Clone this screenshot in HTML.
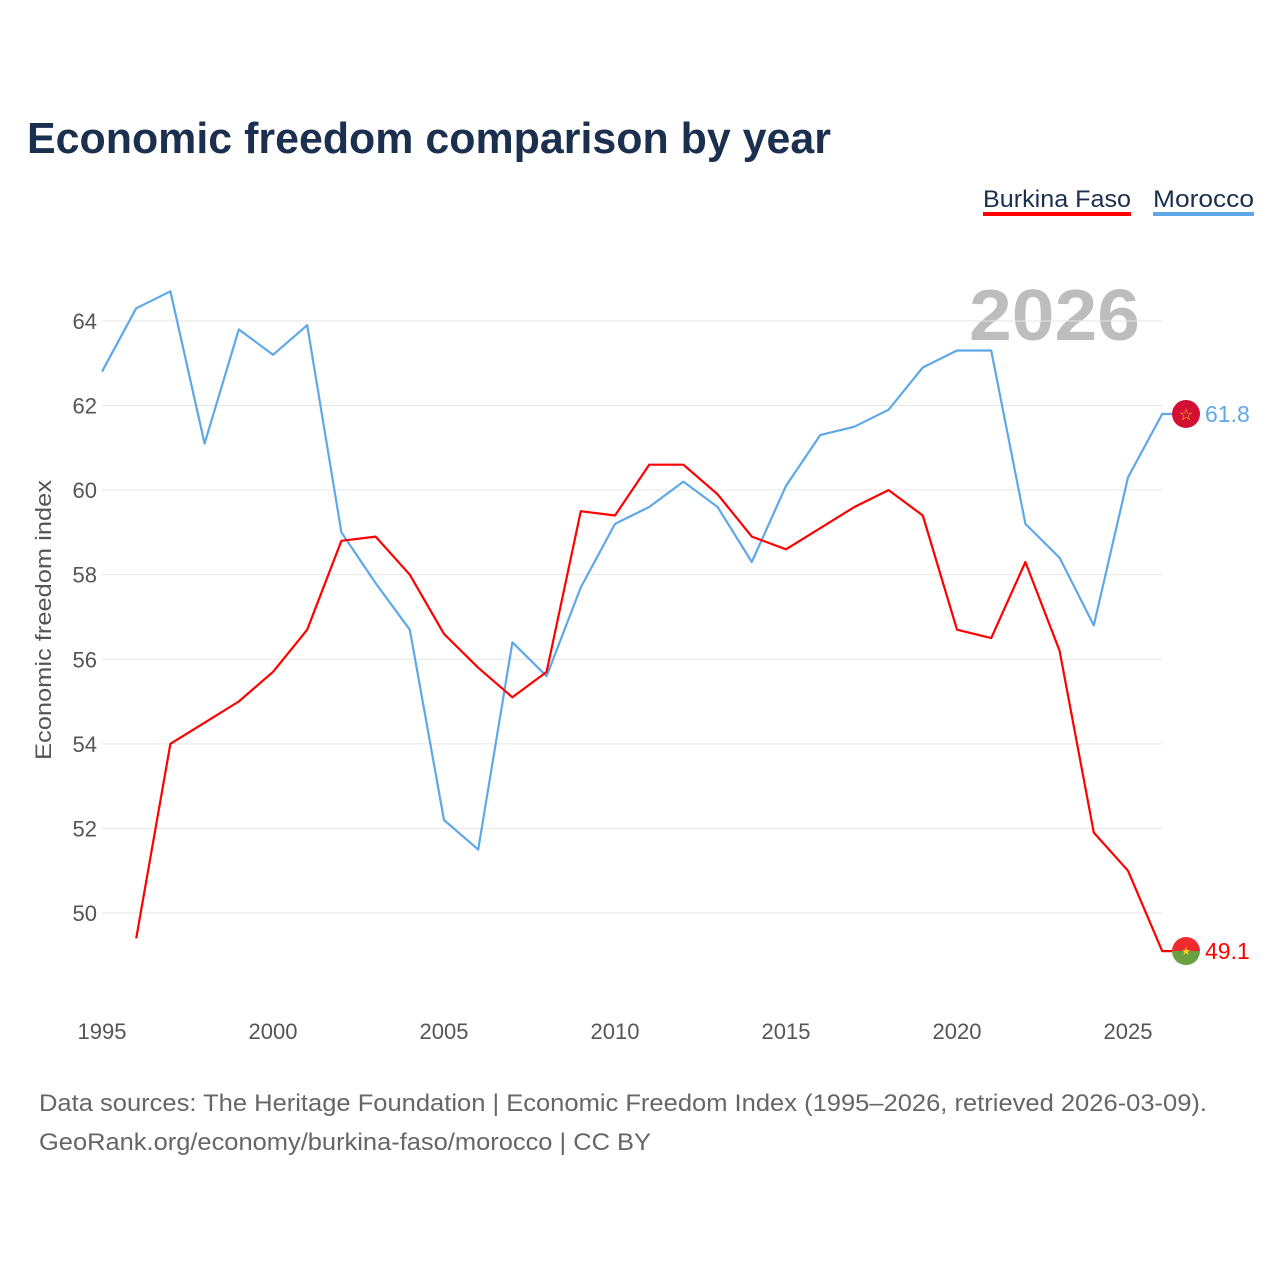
<!DOCTYPE html>
<html><head><meta charset="utf-8">
<style>
html,body{margin:0;padding:0;background:#fff;}
body{width:1280px;height:1280px;position:relative;font-family:"Liberation Sans",sans-serif;overflow:hidden;}
</style></head>
<body>
<svg id="chart" width="1280" height="1280" xmlns="http://www.w3.org/2000/svg" font-family="Liberation Sans, sans-serif">
<text x="27" y="153" font-size="44" font-weight="bold" fill="#1b2f4e" textLength="804" lengthAdjust="spacingAndGlyphs">Economic freedom comparison by year</text>
<g>
<text x="983" y="207" font-size="24" fill="#1b2f4e" textLength="148" lengthAdjust="spacingAndGlyphs">Burkina Faso</text>
<rect x="983" y="212" width="148" height="4" fill="#ff0000"/>
</g>
<g>
<text x="1153" y="207" font-size="24" fill="#1b2f4e" textLength="101" lengthAdjust="spacingAndGlyphs">Morocco</text>
<rect x="1153" y="212" width="101" height="4" fill="#5fa8e8"/>
</g>
<text x="969" y="340" font-size="72" font-weight="bold" fill="#bdbdbd" textLength="171" lengthAdjust="spacingAndGlyphs">2026</text>
<text transform="translate(51,620) rotate(-90)" text-anchor="middle" font-size="22" fill="#555" textLength="280" lengthAdjust="spacingAndGlyphs">Economic freedom index</text>
<g id="grid"></g><g id="yticks"></g><g id="xticks"></g><g id="lines"></g><g id="ends"></g>
<text x="39" y="1111" font-size="24" fill="#666" textLength="1168" lengthAdjust="spacingAndGlyphs">Data sources: The Heritage Foundation | Economic Freedom Index (1995–2026, retrieved 2026-03-09).</text>
<text x="39" y="1150" font-size="24" fill="#666" textLength="612" lengthAdjust="spacingAndGlyphs">GeoRank.org/economy/burkina-faso/morocco | CC BY</text>
</svg>
<script>
const years = [1995,1996,1997,1998,1999,2000,2001,2002,2003,2004,2005,2006,2007,2008,2009,2010,2011,2012,2013,2014,2015,2016,2017,2018,2019,2020,2021,2022,2023,2024,2025,2026];
const morocco = [62.8,64.3,64.7,61.1,63.8,63.2,63.9,59.0,57.8,56.7,52.2,51.5,56.4,55.6,57.7,59.2,59.6,60.2,59.6,58.3,60.1,61.3,61.5,61.9,62.9,63.3,63.3,59.2,58.4,56.8,60.3,61.8];
const burkina = [null,49.4,54.0,54.5,55.0,55.7,56.7,58.8,58.9,58.0,56.6,55.8,55.1,55.7,59.5,59.4,60.6,60.6,59.9,58.9,58.6,59.1,59.6,60.0,59.4,56.7,56.5,58.3,56.2,51.9,51.0,49.1];
const yTicks = [50,52,54,56,58,60,62,64];
const xTicks = [1995,2000,2005,2010,2015,2020,2025];
const NS="http://www.w3.org/2000/svg";
const x = v => 102 + (v-1995)*34.2;
const y = v => 913 - (v-50)*42.29;
function mk(tag, attrs, parent){const e=document.createElementNS(NS,tag);for(const k in attrs)e.setAttribute(k,attrs[k]);document.getElementById(parent).appendChild(e);return e;}
yTicks.forEach(t=>{
  const g=mk('line',{x1:102,x2:1162,y1:y(t),y2:y(t),stroke:'#e6e6e6','stroke-width':1},'grid');
  
  
  const l=mk('text',{x:97,y:y(t)+8,'text-anchor':'end','font-size':22,fill:'#555'},'yticks');
  l.textContent=t;
  
  
});
xTicks.forEach(t=>{
  const l=mk('text',{x:x(t),y:1039,'text-anchor':'middle','font-size':22,fill:'#555'},'xticks');
  l.textContent=t;
  
  
});
function line(vals,color,name){
  let d='';let started=false;let last=null;
  vals.forEach((v,i)=>{if(v==null)return;d+=(started?'L':'M')+x(years[i]).toFixed(1)+','+y(v).toFixed(1);started=true;last=v;});
  d+='L1172,'+y(last).toFixed(1);
  const p=mk('path',{d:d,fill:'none',stroke:color,'stroke-width':2.2,'stroke-linejoin':'round'},'lines');
  
  
}
line(morocco,'#5fa8e8','morocco-line');
line(burkina,'#ff0000','burkina-faso-line');
function endMark(v,color,name,flag){
  const cx=1186, cy=y(v);
  const g=mk('g',{},'ends');
  
  
  if(flag==='ma'){
    const c=document.createElementNS(NS,'circle');c.setAttribute('cx',cx);c.setAttribute('cy',cy);c.setAttribute('r',14);c.setAttribute('fill','#d21034');g.appendChild(c);
    const s=document.createElementNS(NS,'text');s.setAttribute('x',cx);s.setAttribute('y',cy+6);s.setAttribute('text-anchor','middle');s.setAttribute('font-size',16);s.setAttribute('fill','#f5c518');s.textContent='☆';g.appendChild(s);
  } else {
    const t=document.createElementNS(NS,'path');t.setAttribute('d',`M${cx-14},${cy} A14,14 0 0 1 ${cx+14},${cy} Z`);t.setAttribute('fill','#ef2b2d');g.appendChild(t);
    const b=document.createElementNS(NS,'path');b.setAttribute('d',`M${cx-14},${cy} A14,14 0 0 0 ${cx+14},${cy} Z`);b.setAttribute('fill','#6aa042');g.appendChild(b);
    const s=document.createElementNS(NS,'text');s.setAttribute('x',cx);s.setAttribute('y',cy+4);s.setAttribute('text-anchor','middle');s.setAttribute('font-size',11);s.setAttribute('fill','#fcd116');s.textContent='★';g.appendChild(s);
  }
  const l=document.createElementNS(NS,'text');l.setAttribute('x',1205);l.setAttribute('y',cy+8);l.setAttribute('font-size',23);l.setAttribute('fill',color);l.textContent=v.toFixed(1);g.appendChild(l);
}
endMark(morocco[morocco.length-1],'#5fa8e8','morocco-end-label','ma');
endMark(burkina[burkina.length-1],'#ff0000','burkina-faso-end-label','bf');
</script>
</body></html>
